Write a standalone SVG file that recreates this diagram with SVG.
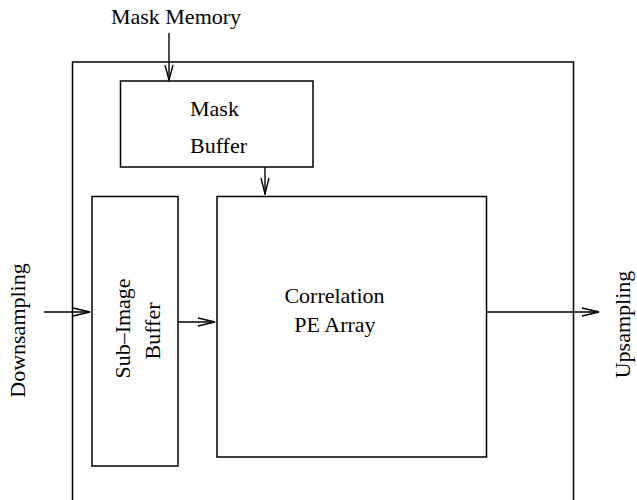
<svg xmlns="http://www.w3.org/2000/svg" width="637" height="500" viewBox="0 0 637 500">
<style>
.box{fill:none;stroke:#000;stroke-width:1.5}
.ln{fill:none;stroke:#000;stroke-width:1.4}
.ah{fill:none;stroke:#000;stroke-width:1.4;stroke-linejoin:miter}
text{font-family:"Liberation Serif","Times New Roman",serif;font-size:22px;fill:#000}
.c{text-anchor:middle}
</style>
<rect width="637" height="500" fill="#fff"/>
<g id="outer"><rect class="box" x="72.5" y="62" width="501" height="460"/></g>
<g id="mask-memory"><text class="c" x="176" y="24">Mask Memory</text></g>
<g id="mask-buffer">
<rect class="box" x="120.5" y="81" width="192.5" height="86"/>
<text x="190" y="116">Mask</text>
<text x="190" y="153">Buffer</text>
</g>
<g id="sub-image-buffer">
<rect class="box" x="92" y="196.5" width="86" height="269.5"/>
<text class="c" transform="translate(130,328.5) rotate(-90)">Sub–Image</text>
<text class="c" transform="translate(160,331) rotate(-90)">Buffer</text>
</g>
<g id="correlation">
<rect class="box" x="217" y="196.5" width="269.5" height="260.5"/>
<text class="c" x="334.5" y="302.5">Correlation</text>
<text class="c" x="335" y="332">PE Array</text>
</g>
<g id="downsampling"><text class="c" transform="translate(24.5,330.5) rotate(-90)">Downsampling</text></g>
<g id="upsampling"><text class="c" transform="translate(630,324.5) rotate(-90)">Upsampling</text></g>
<g id="connectors">
<line class="ln" x1="169" y1="33" x2="169" y2="80"/>
<polyline class="ah" points="165,65 169,80 173,65"/>
<line class="ln" x1="265" y1="167" x2="265" y2="195"/>
<polyline class="ah" points="261,178 265,194 269,178"/>
<line class="ln" x1="44" y1="312" x2="90" y2="312"/>
<polyline class="ah" points="73,308 90,312 73,316"/>
<line class="ln" x1="178" y1="322" x2="215" y2="322"/>
<polyline class="ah" points="198,318 215,322 198,326"/>
<line class="ln" x1="486.5" y1="312" x2="599" y2="312"/>
<polyline class="ah" points="582,308 599,312 582,316"/>
</g>
</svg>
